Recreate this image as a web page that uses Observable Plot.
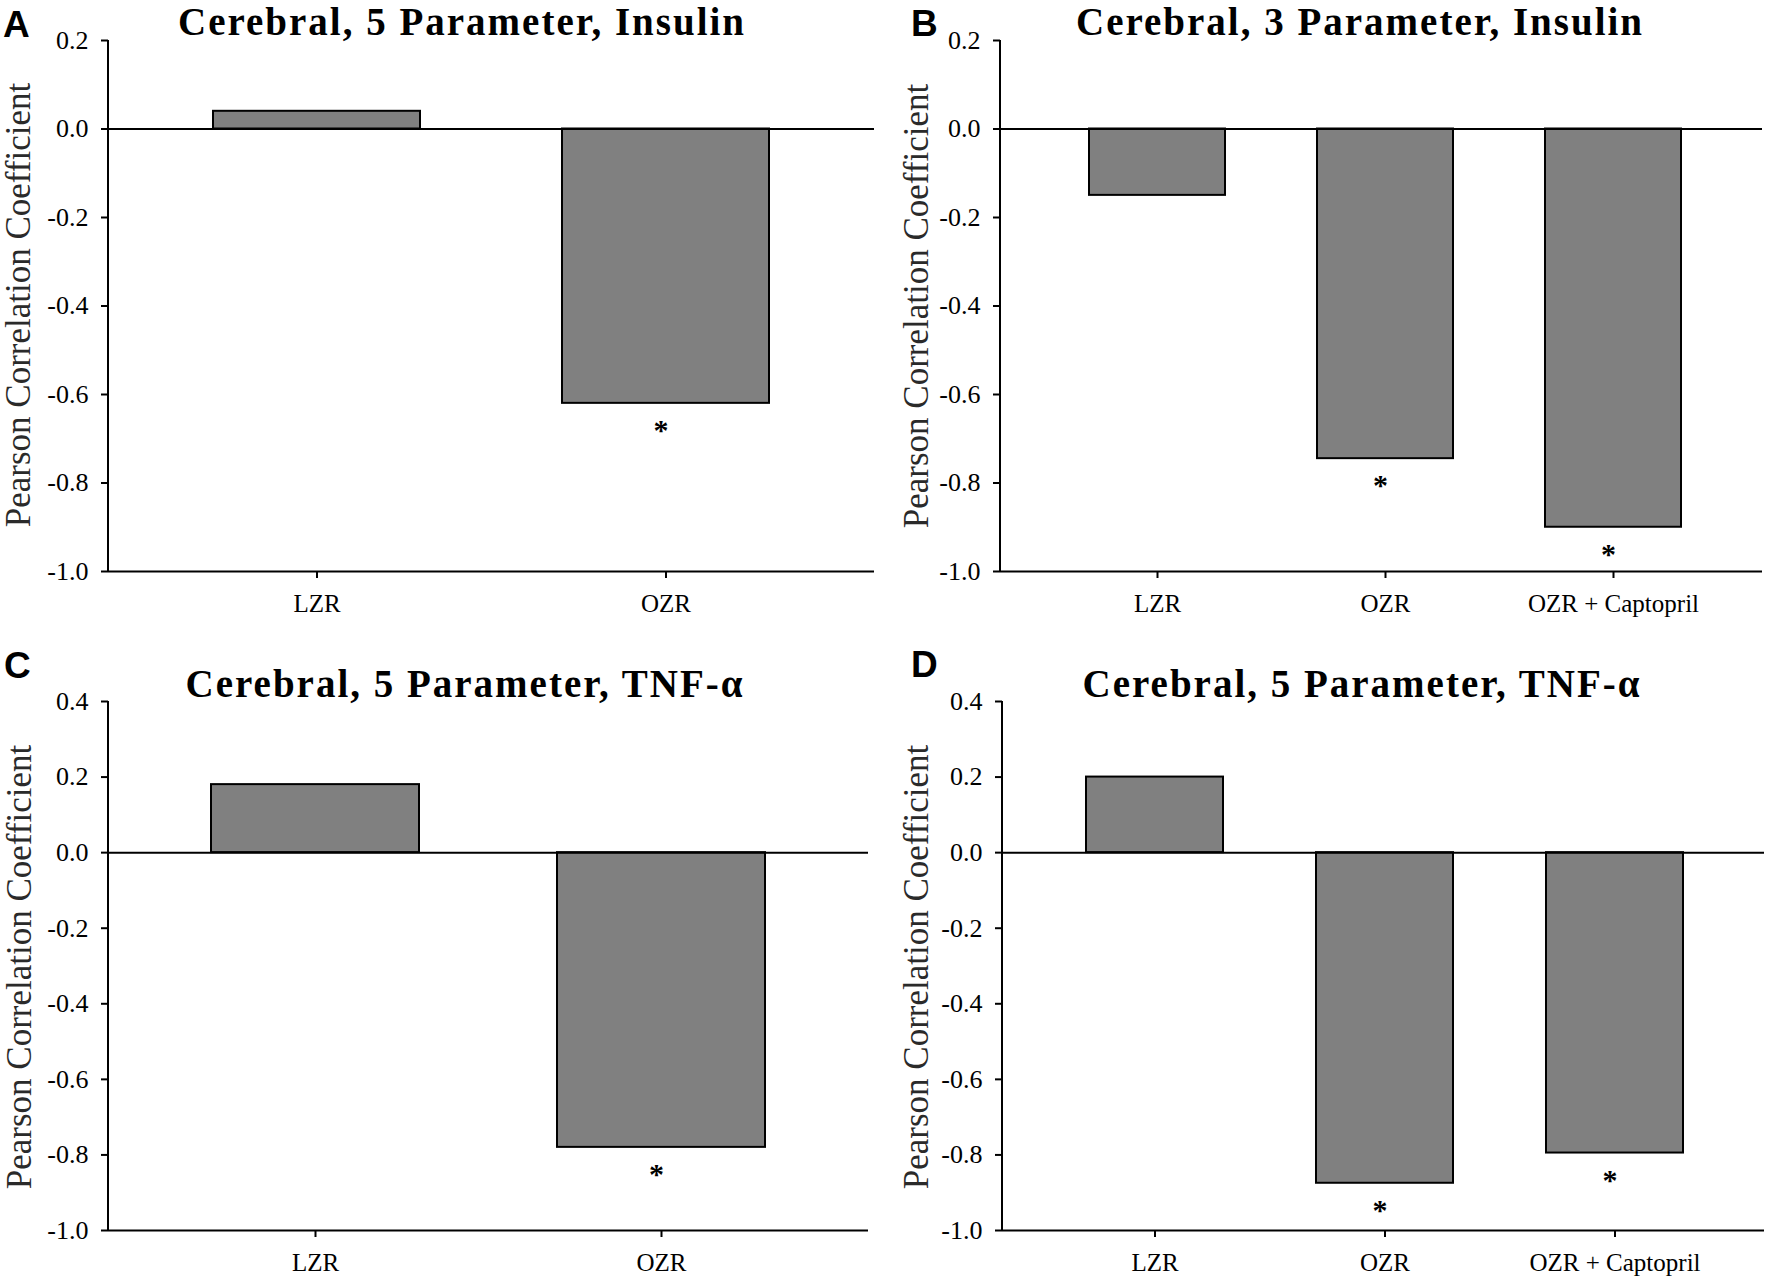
<!DOCTYPE html>
<html>
<head>
<meta charset="utf-8">
<script src="https://cdn.jsdelivr.net/npm/d3@7"></script>
<script src="https://cdn.jsdelivr.net/npm/@observablehq/plot@0.6"></script>
<style>
  html, body { margin: 0; padding: 0; background: #ffffff; }
  #wrap { position: relative; width: 1765px; height: 1279px; background: #ffffff; overflow: hidden; }
  .panel { position: absolute; }
  #overlay { position: absolute; left: 0; top: 0; pointer-events: none; }
</style>
</head>
<body>
<div id="wrap"></div>
<script>
// ---------- Data ----------
const panelLetters = ["A", "B", "C", "D"];
const panelTitles = [
  "Cerebral, 5 Parameter, Insulin",
  "Cerebral, 3 Parameter, Insulin",
  "Cerebral, 5 Parameter, TNF-\u03B1",
  "Cerebral, 5 Parameter, TNF-\u03B1"
];
const yAxisTitle = "Pearson Correlation Coefficient";

const groupsA = ["LZR", "OZR"];
const valuesA = [0.04, -0.62];
const sigA = [false, true];

const groupsB = ["LZR", "OZR", "OZR + Captopril"];
const valuesB = [-0.15, -0.745, -0.90];
const sigB = [false, true, true];

const groupsC = ["LZR", "OZR"];
const valuesC = [0.18, -0.78];
const sigC = [false, true];

const groupsD = ["LZR", "OZR", "OZR + Captopril"];
const valuesD = [0.20, -0.875, -0.795];
const sigD = [false, true, true];

const yTicksTop = [-1.0, -0.8, -0.6, -0.4, -0.2, 0.0, 0.2];
const yTicksBottom = [-1.0, -0.8, -0.6, -0.4, -0.2, 0.0, 0.2, 0.4];

// ---------- Helpers ----------
const serif = "'Liberation Serif', 'Times New Roman', serif";
const sans = "'Liberation Sans', Arial, sans-serif";

function rows(groups, values, sig) {
  return groups.map((g, i) => ({group: g, r: values[i], sig: sig[i]}));
}

// left axis spine drawn from the plot's own dimensions
function leftSpine(index, scales, values, dims) {
  const x = dims.marginLeft;
  return d3.create("svg:line")
    .attr("x1", x).attr("x2", x)
    .attr("y1", dims.marginTop).attr("y2", dims.height - dims.marginBottom)
    .attr("stroke", "black").attr("stroke-width", 2)
    .node();
}

function panel(cfg) {
  const data = rows(cfg.groups, cfg.values, cfg.sig);
  return Plot.plot({
    width: cfg.width,
    height: cfg.height,
    marginLeft: cfg.ml,
    marginRight: cfg.mr,
    marginTop: cfg.mt,
    marginBottom: cfg.mb,
    style: {fontFamily: serif, fontSize: "26px", color: "black", background: "transparent", overflow: "visible"},
    x: {domain: cfg.groups, paddingInner: cfg.pi, paddingOuter: cfg.po, align: cfg.align, label: null},
    y: {domain: cfg.ydomain, label: null},
    marks: [
      Plot.barY(data, {x: "group", y1: 0, y2: "r", fill: "#808080", stroke: "black", strokeWidth: 2}),
      Plot.ruleY([0], {stroke: "black", strokeWidth: 2}),
      Plot.ruleY([cfg.ydomain[0]], {stroke: "black", strokeWidth: 2}),
      leftSpine,
      Plot.axisY({ticks: cfg.yticks, tickFormat: d => d.toFixed(1), tickSize: 7, tickPadding: 13,
                  fontSize: 26, strokeWidth: 2, label: null}),
      Plot.axisX({tickSize: 7, tickPadding: 16, fontSize: 25, strokeWidth: 2, label: null}),
      Plot.text(data.filter(d => d.sig), {x: "group", y: "r", text: () => "*", dy: 27, dx: -5,
                  fontSize: 30, fontWeight: "bold", fill: "black"})
    ]
  });
}

const wrap = document.getElementById("wrap");

const panels = [
  {left: 0,   top: 0,   width: 882, height: 640, ml: 108, mr: 8,  mt: 40, mb: 69,
   groups: groupsA, values: valuesA, sig: sigA, pi: 0.408, po: 0.30, align: 0.5,
   ydomain: [-1, 0.2], yticks: yTicksTop},
  {left: 882, top: 0,   width: 883, height: 640, ml: 118, mr: 3,  mt: 40, mb: 69,
   groups: groupsB, values: valuesB, sig: sigB, pi: 0.405, po: 0.368, align: 0.52,
   ydomain: [-1, 0.2], yticks: yTicksTop},
  {left: 0,   top: 640, width: 882, height: 639, ml: 108, mr: 14, mt: 61, mb: 49,
   groups: groupsC, values: valuesC, sig: sigC, pi: 0.40, po: 0.297, align: 0.5,
   ydomain: [-1, 0.4], yticks: yTicksBottom},
  {left: 882, top: 640, width: 883, height: 639, ml: 120, mr: 1,  mt: 61, mb: 49,
   groups: groupsD, values: valuesD, sig: sigD, pi: 0.405, po: 0.357, align: 0.51,
   ydomain: [-1, 0.4], yticks: yTicksBottom}
];

panels.forEach(cfg => {
  const div = document.createElement("div");
  div.className = "panel";
  div.style.left = cfg.left + "px";
  div.style.top = cfg.top + "px";
  div.appendChild(panel(cfg));
  wrap.appendChild(div);
});

// ---------- Text overlay: panel letters, titles, y-axis titles ----------
const overlay = d3.select(wrap).append("svg")
  .attr("id", "overlay")
  .attr("width", 1765).attr("height", 1279);

const letterPos = [[3, 37], [911, 36], [4, 678], [911, 677]];
const titlePos = [[462, 35], [1360, 35], [465, 697], [1362, 697]];
const axisTitlePos = [[30, 305], [928, 306], [31, 967], [928, 967]];

panelLetters.forEach((t, i) => {
  overlay.append("text")
    .attr("x", letterPos[i][0]).attr("y", letterPos[i][1])
    .attr("font-family", sans).attr("font-weight", "bold").attr("font-size", 37)
    .attr("fill", "black").text(t);
});

panelTitles.forEach((t, i) => {
  overlay.append("text")
    .attr("x", titlePos[i][0]).attr("y", titlePos[i][1])
    .attr("text-anchor", "middle")
    .attr("font-family", serif).attr("font-weight", "bold").attr("font-size", 39)
    .attr("letter-spacing", 2)
    .attr("fill", "black").text(t);
});

axisTitlePos.forEach(p => {
  overlay.append("text")
    .attr("transform", `translate(${p[0]},${p[1]}) rotate(-90)`)
    .attr("text-anchor", "middle")
    .attr("font-family", serif).attr("font-size", 35)
    .attr("fill", "#2a2a2a").text(yAxisTitle);
});
</script>
</body>
</html>
